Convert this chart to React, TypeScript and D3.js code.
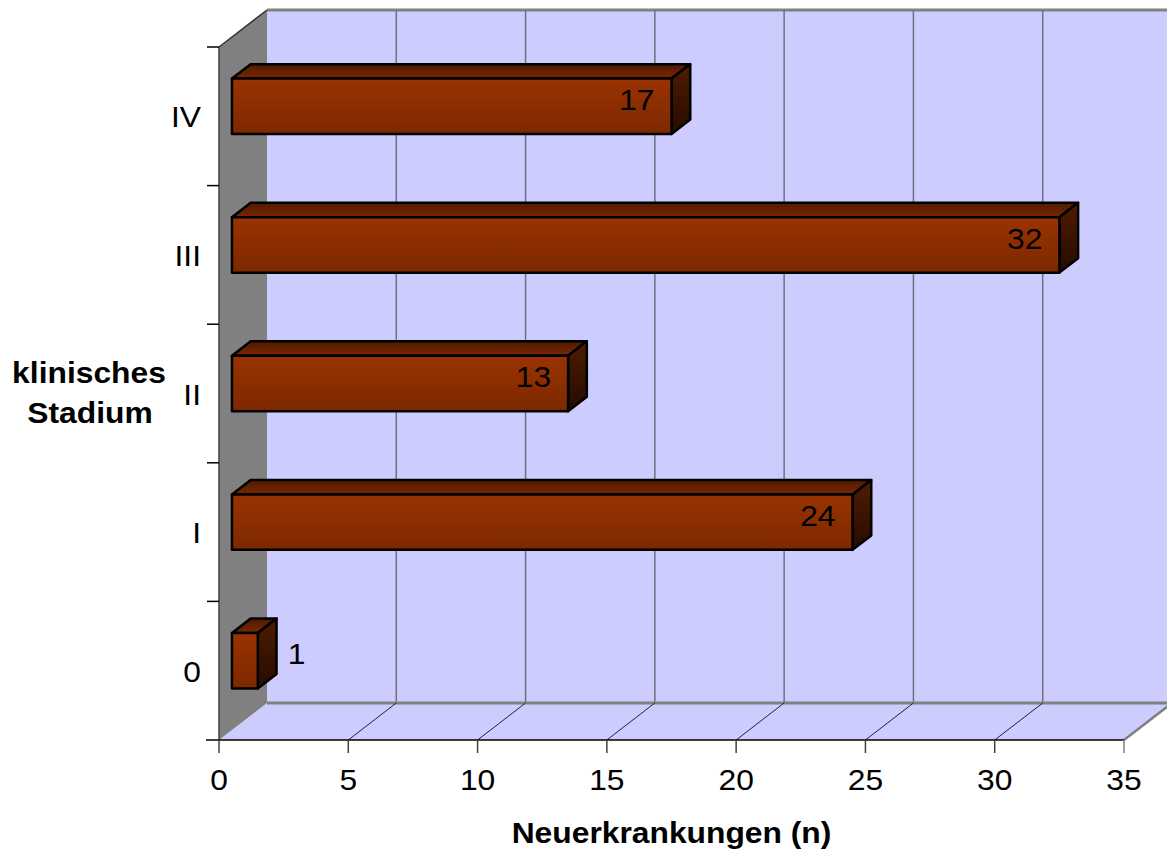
import React from "react";
import * as d3 from "d3";

// Neuerkrankungen je klinischem Stadium
const stages = ["0", "I", "II", "III", "IV"];
const counts = [1, 24, 13, 32, 17];
const xTicks = [0, 5, 10, 15, 20, 25, 30, 35];
const xTitle = "Neuerkrankungen (n)";
const yTitle = ["klinisches", "Stadium"];

const W = 1167;
const H = 857;
const FONT = "'Liberation Sans', Arial, sans-serif";

// front plane of the 3-D box
const x0 = 219;
const x1 = 1124;
const yTop = 47;
const yBottom = 740;
// depth vector from the front plane to the back wall
const DX = 48;
const DY = -37;
// bars occupy this slice of the depth
const dFront = 0.27;
const dBack = 0.66;

const SX = 1.06; // slight horizontal stretch of the lettering

function Txt(props: {
  x: number;
  y: number;
  anchor?: string;
  size?: number;
  bold?: boolean;
  children: React.ReactNode;
}) {
  const { x, y, anchor = "middle", size = 30, bold = false, children } = props;
  return (
    <text
      transform={`translate(${x},${y}) scale(${SX},1)`}
      textAnchor={anchor}
      fontFamily={FONT}
      fontSize={size}
      fontWeight={bold ? "bold" : "normal"}
      fill="#000"
    >
      {children}
    </text>
  );
}

export default function App() {
  const x = d3.scaleLinear().domain([0, 35]).range([x0, x1]);
  const y = d3
    .scaleBand<string>()
    .domain([...stages].reverse())
    .range([yTop, yBottom])
    .padding(0);
  const bw = y.bandwidth();
  const barH = bw * 0.4;

  const fdx = DX * dFront;
  const fdy = DY * dFront;
  const ddx = DX * (dBack - dFront);
  const ddy = DY * (dBack - dFront);

  const pts = (p: [number, number][]) => p.map((q) => q.join(",")).join(" ");

  const gridVals = xTicks.slice(1, -1);

  return (
    <svg
      width={W}
      height={H}
      style={{ position: "absolute", left: 0, top: 0, background: "#fff" }}
    >
      <defs>
        <linearGradient id="front" x1="0" y1="0" x2="0" y2="1">
          <stop offset="0" stopColor="#9a3300" />
          <stop offset="1" stopColor="#7c2800" />
        </linearGradient>
        <linearGradient id="top" x1="0" y1="0" x2="0" y2="1">
          <stop offset="0" stopColor="#4e1a00" />
          <stop offset="1" stopColor="#7a2800" />
        </linearGradient>
        <linearGradient id="side" x1="0" y1="0" x2="0" y2="1">
          <stop offset="0" stopColor="#4f1c00" />
          <stop offset="1" stopColor="#250b00" />
        </linearGradient>
        <clipPath id="clip">
          <rect x={0} y={0} width={W} height={H} />
        </clipPath>
      </defs>

      <g clipPath="url(#clip)">
        {/* back wall */}
        <rect
          x={x0 + DX}
          y={yTop + DY}
          width={x1 - x0 + 10}
          height={yBottom - yTop}
          fill="#ccccff"
        />
        <line
          x1={x0 + DX}
          x2={x1 + DX + 10}
          y1={yTop + DY}
          y2={yTop + DY}
          stroke="#808080"
          strokeWidth={3}
        />
        {gridVals.map((v) => (
          <line
            key={"g" + v}
            x1={x(v) + DX}
            x2={x(v) + DX}
            y1={yTop + DY}
            y2={yBottom + DY}
            stroke="#707080"
            strokeWidth={1.5}
          />
        ))}

        {/* floor */}
        <polygon
          points={pts([
            [x0, yBottom],
            [x1, yBottom],
            [x1 + DX, yBottom + DY],
            [x0 + DX, yBottom + DY],
          ])}
          fill="#ccccff"
        />
        <line
          x1={x0 + DX}
          x2={x1 + DX + 10}
          y1={yBottom + DY}
          y2={yBottom + DY}
          stroke="#808080"
          strokeWidth={3}
        />
        <line
          x1={x1}
          y1={yBottom}
          x2={x1 + DX}
          y2={yBottom + DY}
          stroke="#808080"
          strokeWidth={2.5}
        />
        {gridVals.map((v) => (
          <line
            key={"f" + v}
            x1={x(v)}
            y1={yBottom}
            x2={x(v) + DX}
            y2={yBottom + DY}
            stroke="#202040"
            strokeWidth={1}
          />
        ))}

        {/* left wall */}
        <polygon
          points={pts([
            [x0, yTop],
            [x0 + DX, yTop + DY],
            [x0 + DX, yBottom + DY],
            [x0, yBottom],
          ])}
          fill="#808080"
        />
        <line
          x1={x0}
          y1={yTop}
          x2={x0 + DX}
          y2={yTop + DY}
          stroke="#333"
          strokeWidth={1.5}
        />

        {/* bars */}
        {stages.map((s, i) => {
          const v = counts[i];
          const cy = (y(s) as number) + bw / 2 + fdy;
          const top = cy - barH / 2;
          const bot = cy + barH / 2;
          const l = x(0) + fdx;
          const r = x(v) + fdx;
          return (
            <g key={s} stroke="#000" strokeWidth={2.5} strokeLinejoin="round">
              <polygon
                points={pts([
                  [l, top],
                  [l + ddx, top + ddy],
                  [r + ddx, top + ddy],
                  [r, top],
                ])}
                fill="url(#top)"
              />
              <polygon
                points={pts([
                  [r, top],
                  [r + ddx, top + ddy],
                  [r + ddx, bot + ddy],
                  [r, bot],
                ])}
                fill="url(#side)"
              />
              <rect x={l} y={top} width={r - l} height={barH} fill="url(#front)" />
            </g>
          );
        })}

        {/* value labels */}
        {stages.map((s, i) => {
          const v = counts[i];
          const cy = (y(s) as number) + bw / 2 + fdy + ddy / 2;
          const r = x(v) + fdx;
          const inside = r - (x(0) + fdx) > 60;
          return (
            <Txt
              key={"l" + s}
              x={inside ? r - 17 : r + 30}
              y={cy + 11}
              anchor={inside ? "end" : "start"}
            >
              {v}
            </Txt>
          );
        })}
      </g>

      {/* axes */}
      <line x1={x0} x2={x0} y1={yTop} y2={yBottom} stroke="#404040" strokeWidth={1.5} />
      <line x1={x0 - 13} x2={x1} y1={yBottom} y2={yBottom} stroke="#000" strokeWidth={1.5} />
      {xTicks.map((t) => (
        <g key={"xt" + t}>
          <line
            x1={x(t)}
            x2={x(t)}
            y1={yBottom}
            y2={yBottom + 13}
            stroke={t === 35 ? "#808080" : "#404040"}
            strokeWidth={1.5}
          />
          <Txt x={x(t)} y={790}>
            {t}
          </Txt>
        </g>
      ))}
      {y.domain().map((s, i) => (
        <line
          key={"yt" + s}
          x1={x0 - 12}
          x2={x0}
          y1={yTop + i * bw}
          y2={yTop + i * bw}
          stroke="#000"
          strokeWidth={1.5}
        />
      ))}
      {stages.map((s) => (
        <Txt key={"yl" + s} x={201} y={(y(s) as number) + bw / 2 + 11} anchor="end">
          {s}
        </Txt>
      ))}

      {/* axis titles */}
      <Txt x={(x0 + x1) / 2} y={843} bold>
        {xTitle}
      </Txt>
      <Txt x={89} y={383} bold>
        {yTitle[0]}
      </Txt>
      <Txt x={90} y={423} bold>
        {yTitle[1]}
      </Txt>
    </svg>
  );
}
